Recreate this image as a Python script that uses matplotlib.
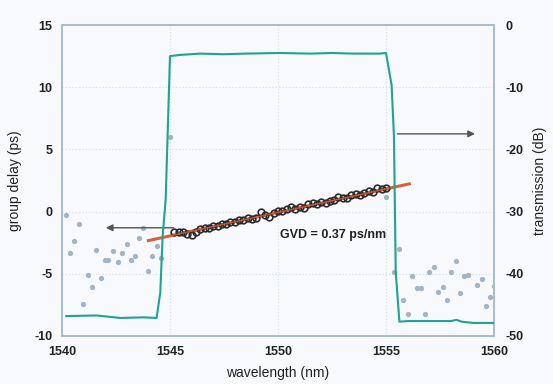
import matplotlib
matplotlib.use("Agg")
import matplotlib.pyplot as plt

plt.rcParams['font.family'] = ['Liberation Sans', 'DejaVu Sans']
plt.rcParams['axes.unicode_minus'] = False

# ---- data ----
trans_wl = [1540.2, 1541.6, 1542.7, 1543.77, 1544.38, 1544.55, 1544.66, 1544.8, 1545.0,
            1545.5, 1546.4, 1547.5, 1548.5, 1550.1, 1551.5, 1552.5, 1553.5, 1554.7, 1555.0,
            1555.26, 1555.37, 1555.4, 1555.45, 1555.62, 1556.0, 1557.0, 1558.0, 1558.27,
            1558.5, 1559.05, 1560.0]
trans_db = [-46.8, -46.7, -47.1, -47.0, -47.1, -43.0, -33.9, -28.0, -5.0,
            -4.8, -4.6, -4.7, -4.6, -4.5, -4.6, -4.5, -4.6, -4.6, -4.5,
            -9.7, -18.0, -26.4, -39.7, -47.7, -47.6, -47.6, -47.6, -47.4,
            -47.7, -47.9, -47.9]

gd_wl = [1545.2, 1545.4, 1545.6, 1545.8, 1546.0, 1546.2, 1546.4, 1546.6, 1546.8, 1547.0,
         1547.2, 1547.4, 1547.6, 1547.8, 1548.0, 1548.2, 1548.4, 1548.6, 1548.8, 1549.0,
         1549.2, 1549.4, 1549.6, 1549.8, 1550.0, 1550.2, 1550.4, 1550.6, 1550.8, 1551.0,
         1551.2, 1551.4, 1551.6, 1551.8, 1552.0, 1552.2, 1552.4, 1552.6, 1552.8, 1553.0,
         1553.2, 1553.4, 1553.6, 1553.8, 1554.0, 1554.2, 1554.4, 1554.6, 1554.8, 1555.0]
gd_ps = [-1.68, -1.65, -1.68, -1.80, -1.88, -1.60, -1.38, -1.35, -1.33, -1.15,
         -1.18, -1.00, -0.98, -0.85, -0.87, -0.70, -0.67, -0.55, -0.57, -0.55,
         -0.07, -0.25, -0.42, -0.10, 0.03, 0.06, 0.18, 0.36, 0.23, 0.36,
         0.28, 0.61, 0.73, 0.61, 0.78, 0.71, 0.88, 0.91, 1.14, 1.11,
         1.09, 1.31, 1.44, 1.36, 1.49, 1.66, 1.59, 1.91, 1.84, 1.86]

fit_wl = [1544.0, 1556.08]
fit_ps = [-2.33, 2.23]

noise_wl = [1540.19, 1540.79, 1540.56, 1540.37, 1541.56, 1542.38, 1542.77, 1543.0, 1543.58,
            1543.77, 1544.38, 1544.17, 1544.57, 1543.39, 1543.18, 1542.59, 1541.99, 1542.14,
            1543.98, 1541.2, 1541.79, 1541.37, 1540.96, 1545.0,
            1555.0, 1555.62, 1555.39, 1556.22, 1556.42, 1556.6, 1557.0, 1557.24, 1558.24,
            1558.0, 1557.42, 1557.62, 1557.84, 1558.43, 1558.61, 1558.81, 1559.21, 1559.43,
            1559.81, 1559.61, 1560.0, 1555.81, 1556.01, 1556.81]
noise_ps = [-0.27, -1.0, -2.33, -3.3, -3.05, -3.2, -3.3, -2.57, -2.14,
            -1.33, -2.73, -3.59, -3.75, -3.59, -3.86, -4.07, -3.9, -3.88,
            -4.77, -5.09, -5.36, -6.1, -7.45, 6.0,
            1.16, -3.0, -4.82, -5.2, -6.16, -6.13, -4.87, -4.44, -3.99,
            -4.87, -6.43, -6.08, -7.1, -6.54, -5.14, -5.06, -5.89, -5.41,
            -6.88, -7.56, -6.0, -7.12, -8.2, -8.22]

x_ticks = [1540, 1545, 1550, 1555, 1560]
y_left_ticks = [-10, -5, 0, 5, 10, 15]
y_right_ticks = [-50, -40, -30, -20, -10, 0]

# ---- style ----
bg = "#f8f9fc"
spine_c = "#a9bccb"
grid_c = "#d6dee6"
teal = "#1fa393"
pt_c = "#a3b4c4"
red = "#d4623f"
txt = "#222222"

fig = plt.figure(figsize=(5.53, 3.84), dpi=100, facecolor=bg)
ax = fig.add_axes([62/553, 1-336/384, (494-62)/553, (336-25)/384])
ax.set_facecolor(bg)
ax2 = ax.twinx()

ax.set_xlim(1540, 1560)
ax.set_ylim(-10, 15)
ax2.set_ylim(-50, 0)

ax.set_xticks(x_ticks)
ax.set_yticks(y_left_ticks)
ax2.set_yticks(y_right_ticks)
ax.grid(True, color=grid_c, linestyle=(0, (1, 2)), linewidth=0.8)
ax.set_axisbelow(True)

for a in (ax, ax2):
    for s in a.spines.values():
        s.set_color(spine_c)
        s.set_linewidth(1.2)
    a.tick_params(length=0, labelsize=9, colors=txt)
ax.tick_params(axis='y', pad=7)
ax.tick_params(axis='x', pad=7)
ax2.tick_params(axis='y', pad=8)
for lab in ax.get_xticklabels() + ax.get_yticklabels() + ax2.get_yticklabels():
    lab.set_fontweight('bold')

# scattered points outside band
ax.plot(noise_wl, noise_ps, 'o', color=pt_c, ms=3.8, mec='none', zorder=2)

# transmission
ax2.plot(trans_wl, trans_db, color=teal, lw=1.5, zorder=3)

# group delay data and fit
ax.plot(fit_wl, fit_ps, color=red, lw=2.2, zorder=4)
ax.plot(gd_wl, gd_ps, 'o', mfc='none', mec='#2b2b2b', mew=1.2, ms=4.8, zorder=5)
ax.plot(fit_wl, fit_ps, color=red, lw=1.0, alpha=0.8, zorder=6)

# arrows
ax.annotate('', xy=(1541.9, -1.3), xytext=(1545.3, -1.3),
            arrowprops=dict(arrowstyle='-|>', color='#555555', lw=1.0,
                            mutation_scale=10), zorder=7)
ax.annotate('', xy=(1559.25, 6.25), xytext=(1555.4, 6.25),
            arrowprops=dict(arrowstyle='-|>', color='#555555', lw=1.0,
                            mutation_scale=10), zorder=7)

ax.text(1550.1, -1.9, 'GVD = 0.37 ps/nm', fontsize=9, fontweight='bold',
        color=txt, ha='left', va='center', zorder=8)

ax.set_xlabel('wavelength (nm)', fontsize=10, color=txt, labelpad=6)
ax.set_ylabel('group delay (ps)', fontsize=10, color=txt, labelpad=9)
ax2.set_ylabel('transmission (dB)', fontsize=10, color=txt, labelpad=7)

fig.savefig('out.png', dpi=100, facecolor=bg)
